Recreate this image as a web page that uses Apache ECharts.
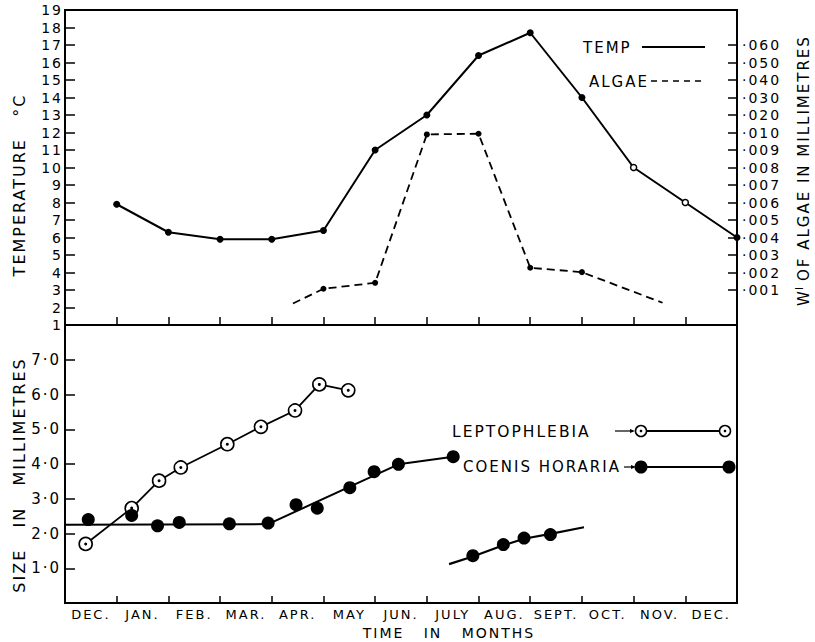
<!DOCTYPE html>
<html><head><meta charset="utf-8">
<script src="https://cdn.jsdelivr.net/npm/echarts@6/dist/echarts.min.js"></script>
<style>
html,body{margin:0;padding:0;background:#fff;}
#c{width:815px;height:642px;}
#c svg text{letter-spacing:2px;}
</style></head><body><div id="c"></div>
<script>
// ---------- data ----------
const months = ['DEC.','JAN.','FEB.','MAR.','APR.','MAY','JUN.','JULY','AUG.','SEPT.','OCT.','NOV.','DEC.'];
// Temperature (°C), x = month boundary index (0 = left frame)
const tempX = [1,2,3,4,5,6,7,8,9,10,11,12,13];
const tempC = [7.9,6.3,5.9,5.9,6.4,11.0,13.0,16.4,17.7,14.0,10.0,8.0,6.0];
const tempHollow = [false,false,false,false,false,false,false,false,false,false,true,true,false];
// Algae weight (mm)
const algaeX = [4.41,5,6,7,8,9,10,11.56];
const algaeWt = [0.00023,0.00107,0.00141,0.00989,0.00993,0.00227,0.00202,0.00027];
const algaeDot = [false,true,true,true,true,true,true,false];
const algaeTickVals = [0.001,0.002,0.003,0.004,0.005,0.006,0.007,0.008,0.009,0.010,0.020,0.030,0.040,0.050,0.060];
const algaeTickLabels = ['·001','·002','·003','·004','·005','·006','·007','·008','·009','·010','·020','·030','·040','·050','·060'];
const tempTicks = [1,2,3,4,5,6,7,8,9,10,11,12,13,14,15,16,17,18,19];
// Size (mm)
const sizeTicks = [1,2,3,4,5,6,7];
const sizeTickLabels = ['1·0','2·0','3·0','4·0','5·0','6·0','7·0'];
const leptoX = [0.40,1.29,1.82,2.24,3.14,3.79,4.45,4.92,5.48];
const leptoMM = [1.70,2.73,3.52,3.90,4.57,5.07,5.54,6.29,6.12];
const coenisX = [0.45,1.29,1.79,2.21,3.18,3.93,4.47,4.88,5.51,5.98,6.45,7.51];
const coenisMM = [2.40,2.52,2.22,2.32,2.28,2.30,2.83,2.73,3.32,3.78,3.99,4.21];
const coenisTrendX = [0,3.93,6.45,7.51];
const coenisTrendMM = [2.25,2.27,3.99,4.21];
const coenis2X = [7.89,8.48,8.88,9.39];
const coenis2MM = [1.36,1.68,1.87,1.97];
const coenis2TrendX = [7.43,7.89,8.48,8.88,9.39,10.04];
const coenis2TrendMM = [1.12,1.34,1.66,1.85,1.99,2.18];

// ---------- helpers ----------
const algaePos = v => v <= 0.010 ? 2 + v * 1000 : 12 + (v - 0.010) * 100;
const pairs = (xs, ys) => xs.map((x, i) => [x, ys[i]]);
const F = '"DejaVu Sans"';
const BLACK = '#000';
const boundaryTicks = [1,2,3,4,5,6,7,8,9,10,11,12];

const chart = echarts.init(document.getElementById('c'), null, {renderer: 'svg', width: 815, height: 642});

const xValAxis = (gridIndex, len) => ({
  type: 'value', gridIndex, min: 0, max: 13, interval: 1,
  axisLine: {show: false},
  axisTick: {show: true, inside: true, length: len, customValues: boundaryTicks, lineStyle: {color: BLACK, width: 1.5}},
  axisLabel: {show: false}, splitLine: {show: false}
});

const option = {
  animation: false,
  backgroundColor: '#fff',
  grid: [
    {left: 65, top: 10, width: 672, height: 315, show: true, borderColor: BLACK, borderWidth: 2, backgroundColor: 'transparent', outerBoundsMode: 'none', containLabel: false},
    {left: 65, top: 325, width: 672, height: 278, show: true, borderColor: BLACK, borderWidth: 2, backgroundColor: 'transparent', outerBoundsMode: 'none', containLabel: false}
  ],
  xAxis: [
    xValAxis(0, 8),
    xValAxis(1, 7),
    {type: 'category', gridIndex: 1, data: months, boundaryGap: true, position: 'bottom',
     axisLine: {show: false}, axisTick: {show: false}, splitLine: {show: false},
     axisLabel: {interval: 0, margin: 5, color: BLACK, fontFamily: 'DejaVu Sans', fontSize: 13}}
  ],
  yAxis: [
    {type: 'value', gridIndex: 0, position: 'left', min: 1, max: 19, interval: 1,
     axisLine: {show: false}, splitLine: {show: false},
     axisTick: {show: true, inside: true, length: 10, customValues: tempTicks.slice(1, -1), lineStyle: {color: BLACK, width: 1.5}},
     axisLabel: {customValues: tempTicks, margin: 2, color: BLACK, fontFamily: 'DejaVu Sans', fontSize: 14}},
    {type: 'value', gridIndex: 0, position: 'right', min: 1, max: 19, interval: 1,
     axisLine: {show: false}, splitLine: {show: false},
     axisTick: {show: true, inside: true, length: 9, customValues: algaeTickVals.map(algaePos), lineStyle: {color: BLACK, width: 1.5}},
     axisLabel: {customValues: algaeTickVals.map(algaePos), margin: 5, color: BLACK, fontFamily: 'DejaVu Sans', fontSize: 14,
       formatter: v => { const i = algaeTickVals.findIndex(t => Math.abs(algaePos(t) - v) < 1e-6); return i >= 0 ? algaeTickLabels[i] : ''; }}},
    {type: 'value', gridIndex: 1, position: 'left', min: 0, max: 8, interval: 1,
     axisLine: {show: false}, splitLine: {show: false},
     axisTick: {show: true, inside: true, length: 10, customValues: sizeTicks, lineStyle: {color: BLACK, width: 1.5}},
     axisLabel: {customValues: sizeTicks, margin: 4, color: BLACK, fontFamily: 'DejaVu Sans', fontSize: 15,
       formatter: v => { const i = sizeTicks.indexOf(v); return i >= 0 ? sizeTickLabels[i] : ''; }}}
  ],
  series: [
    {type: 'line', name: 'TEMP', xAxisIndex: 0, yAxisIndex: 0, clip: false,
     data: tempX.map((x, i) => ({value: [x, tempC[i]], symbolSize: tempHollow[i] ? 6 : 7,
       itemStyle: tempHollow[i] ? {color: '#fff', borderColor: BLACK, borderWidth: 1.5} : {color: BLACK, borderWidth: 0}})),
     symbol: 'circle', lineStyle: {color: BLACK, width: 2}, itemStyle: {color: BLACK, opacity: 1}},
    {type: 'line', name: 'ALGAE', xAxisIndex: 0, yAxisIndex: 1, clip: false,
     data: algaeX.map((x, i) => ({value: [x, algaePos(algaeWt[i])], symbol: algaeDot[i] ? 'circle' : 'none'})),
     symbolSize: 6, lineStyle: {color: BLACK, width: 1.8, type: [8, 5]}, itemStyle: {color: BLACK, borderWidth: 0, opacity: 1}},
    {type: 'line', name: 'COENIS trend', xAxisIndex: 1, yAxisIndex: 2, symbol: 'none', z: 2,
     data: pairs(coenisTrendX, coenisTrendMM), lineStyle: {color: BLACK, width: 2}},
    {type: 'line', name: 'COENIS trend 2', xAxisIndex: 1, yAxisIndex: 2, symbol: 'none', z: 2,
     data: pairs(coenis2TrendX, coenis2TrendMM), lineStyle: {color: BLACK, width: 2.2}},
    {type: 'line', name: 'LEPTOPHLEBIA', xAxisIndex: 1, yAxisIndex: 2, symbol: 'circle', symbolSize: 13, z: 3,
     data: pairs(leptoX, leptoMM), lineStyle: {color: BLACK, width: 1.8},
     itemStyle: {color: '#fff', borderColor: BLACK, borderWidth: 1.6, opacity: 1}},
    {type: 'scatter', name: 'LEPTOPHLEBIA dot', xAxisIndex: 1, yAxisIndex: 2, symbol: 'circle', symbolSize: 3, z: 6,
     data: pairs(leptoX, leptoMM), itemStyle: {color: BLACK, opacity: 1}},
    {type: 'scatter', name: 'COENIS HORARIA', xAxisIndex: 1, yAxisIndex: 2, symbol: 'circle', symbolSize: 13, z: 4,
     data: pairs(coenisX, coenisMM), itemStyle: {color: BLACK, opacity: 1}},
    {type: 'scatter', name: 'COENIS HORARIA 2', xAxisIndex: 1, yAxisIndex: 2, symbol: 'circle', symbolSize: 13, z: 4,
     data: pairs(coenis2X, coenis2MM), itemStyle: {color: BLACK, opacity: 1}}
  ],
  graphic: [
    // axis titles
    {type: 'text', x: 19, y: 185, rotation: Math.PI / 2,
     style: {text: 'TEMPERATURE   °C', font: '16px ' + F, fill: BLACK, textAlign: 'center', textVerticalAlign: 'middle'}},
    {type: 'text', x: 804, y: 306, rotation: Math.PI / 2,
     style: {text: 'W', font: '15px ' + F, fill: BLACK, textAlign: 'left', textVerticalAlign: 'middle'}},
    {type: 'text', x: 799, y: 290, rotation: Math.PI / 2,
     style: {text: 'I', font: '10px ' + F, fill: BLACK, textAlign: 'left', textVerticalAlign: 'middle'}},
    {type: 'text', x: 804, y: 281, rotation: Math.PI / 2,
     style: {text: 'OF ALGAE IN MILLIMETRES', font: '15px ' + F, fill: BLACK, textAlign: 'left', textVerticalAlign: 'middle'}},
    {type: 'text', x: 19, y: 475, rotation: Math.PI / 2,
     style: {text: 'SIZE   IN   MILLIMETRES', font: '16px ' + F, fill: BLACK, textAlign: 'center', textVerticalAlign: 'middle'}},
    {type: 'text', x: 449, y: 633,
     style: {text: 'TIME   IN   MONTHS', font: '14px ' + F, fill: BLACK, textAlign: 'center', textVerticalAlign: 'middle'}},
    // top legend
    {type: 'text', x: 583, y: 48, style: {text: 'TEMP', font: '15px ' + F, fill: BLACK, textAlign: 'left', textVerticalAlign: 'middle'}},
    {type: 'line', shape: {x1: 642, y1: 47, x2: 705, y2: 47}, style: {stroke: BLACK, lineWidth: 2}},
    {type: 'text', x: 589, y: 82, style: {text: 'ALGAE', font: '15px ' + F, fill: BLACK, textAlign: 'left', textVerticalAlign: 'middle'}},
    {type: 'line', shape: {x1: 651, y1: 81, x2: 705, y2: 81}, style: {stroke: BLACK, lineWidth: 1.5, lineDash: [6, 5]}},
    // bottom legend
    {type: 'text', x: 452, y: 432, style: {text: 'LEPTOPHLEBIA', font: '15.5px ' + F, fill: BLACK, textAlign: 'left', textVerticalAlign: 'middle'}},
    {type: 'line', shape: {x1: 615, y1: 431, x2: 631, y2: 431}, style: {stroke: BLACK, lineWidth: 1.2}},
    {type: 'polygon', shape: {points: [[630, 429], [635, 431], [630, 433]]}, style: {fill: BLACK}},
    {type: 'line', shape: {x1: 641, y1: 431, x2: 725, y2: 431}, style: {stroke: BLACK, lineWidth: 1.8}},
    {type: 'circle', shape: {cx: 641, cy: 431, r: 5.5}, style: {fill: '#fff', stroke: BLACK, lineWidth: 1.5}},
    {type: 'circle', shape: {cx: 641, cy: 431, r: 1.3}, style: {fill: BLACK}},
    {type: 'circle', shape: {cx: 725, cy: 431, r: 5.5}, style: {fill: '#fff', stroke: BLACK, lineWidth: 1.5}},
    {type: 'circle', shape: {cx: 725, cy: 431, r: 1.3}, style: {fill: BLACK}},
    {type: 'text', x: 463, y: 467, style: {text: 'COENIS HORARIA', font: '15px ' + F, fill: BLACK, textAlign: 'left', textVerticalAlign: 'middle'}},
    {type: 'line', shape: {x1: 624, y1: 467, x2: 632, y2: 467}, style: {stroke: BLACK, lineWidth: 1.2}},
    {type: 'polygon', shape: {points: [[631, 465], [636, 467], [631, 469]]}, style: {fill: BLACK}},
    {type: 'line', shape: {x1: 641, y1: 467, x2: 729, y2: 467}, style: {stroke: BLACK, lineWidth: 2}},
    {type: 'circle', shape: {cx: 641, cy: 467, r: 6.5}, style: {fill: BLACK}},
    {type: 'circle', shape: {cx: 729, cy: 467, r: 6.5}, style: {fill: BLACK}}
  ]
};
chart.setOption(option);
</script></body></html>
